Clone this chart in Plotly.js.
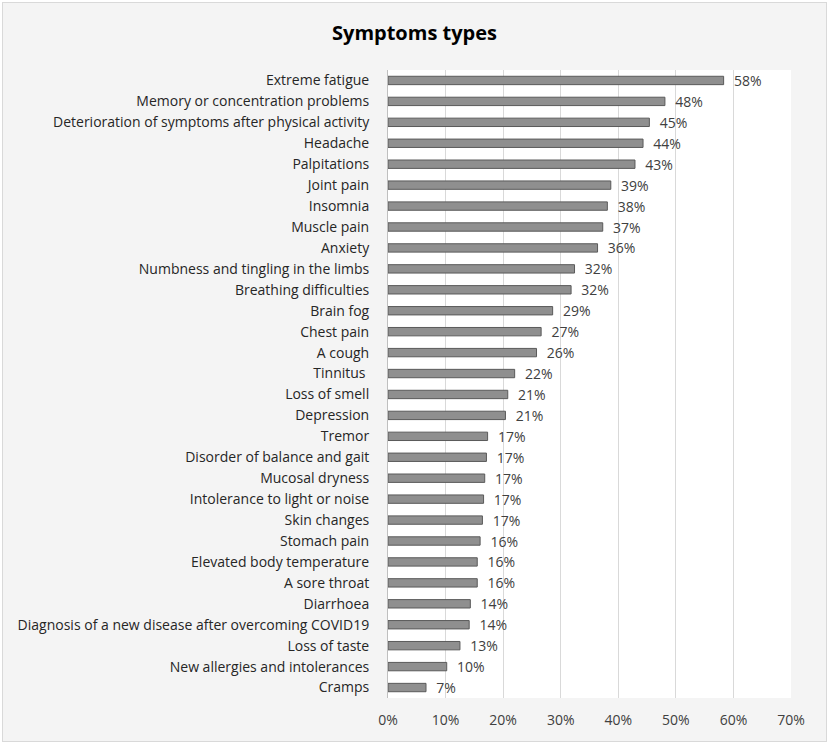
<!DOCTYPE html>
<html><head><meta charset="utf-8">
<script src="https://cdn.plot.ly/plotly-3.0.1.min.js"></script>
<style>
html,body{margin:0;padding:0;background:#ffffff;}
#chart{position:absolute;left:2px;top:2px;width:823px;height:738px;border:1px solid #d9d9d9;}
</style></head>
<body><div id="chart"></div>
<script>
const categories = ["Extreme fatigue","Memory or concentration problems","Deterioration of symptoms after physical activity","Headache","Palpitations","Joint pain","Insomnia","Muscle pain","Anxiety","Numbness and tingling in the limbs","Breathing difficulties","Brain fog","Chest pain","A cough","Tinnitus ","Loss of smell","Depression","Tremor","Disorder of balance and gait","Mucosal dryness","Intolerance to light or noise","Skin changes","Stomach pain","Elevated body temperature","A sore throat","Diarrhoea","Diagnosis of a new disease after overcoming COVID19","Loss of taste","New allergies and intolerances","Cramps"];
const values = [0.583,0.481,0.454,0.443,0.429,0.387,0.381,0.373,0.364,0.324,0.318,0.286,0.266,0.258,0.220,0.208,0.204,0.173,0.171,0.168,0.166,0.164,0.160,0.155,0.155,0.143,0.141,0.125,0.102,0.066];
const valueLabels = ["58%","48%","45%","44%","43%","39%","38%","37%","36%","32%","32%","29%","27%","26%","22%","21%","21%","17%","17%","17%","17%","17%","16%","16%","16%","14%","14%","13%","10%","7%"];
const tickVals = [0,0.1,0.2,0.3,0.4,0.5,0.6,0.7];
const tickText = ["0%","10%","20%","30%","40%","50%","60%","70%"];

const font = "Open Sans, Noto Sans, sans-serif";
Plotly.newPlot("chart", [{
  type: "bar",
  orientation: "h",
  y: categories,
  x: values,
  text: valueLabels.map(t => "  " + t),
  textposition: "outside",
  constraintext: "none",
  cliponaxis: false,
  textfont: {family: font, size: 14, color: "#404040"},
  marker: {color: "#8f8f8f", line: {color: "#5a5a5a", width: 1}},
  hoverinfo: "none"
}], {
  width: 823, height: 738,
  paper_bgcolor: "#f4f4f4",
  plot_bgcolor: "#ffffff",
  margin: {l: 385, r: 35, t: 67, b: 43, pad: 0},
  bargap: 0.6,
  showlegend: false,
  title: {text: "<b>Symptoms types</b>", x: 0.5, xanchor: "center", y: 0.96, yanchor: "middle",
          font: {family: font, size: 20, color: "#000000"}},
  xaxis: {range: [0, 0.7], tickvals: tickVals, ticktext: tickText, showgrid: true,
          gridcolor: "#d9d9d9", gridwidth: 1, zeroline: false, showline: false,
          ticks: "", ticklabelstandoff: 12,
          tickfont: {family: font, size: 14, color: "#404040"}, fixedrange: true},
  yaxis: {autorange: "reversed", type: "category", showgrid: false, showline: true,
          linecolor: "#bfbfbf", linewidth: 1, ticks: "", ticklabelstandoff: 15,
          tickfont: {family: font, size: 14, color: "#262626"}, fixedrange: true}
}, {staticPlot: true});
</script></body></html>
